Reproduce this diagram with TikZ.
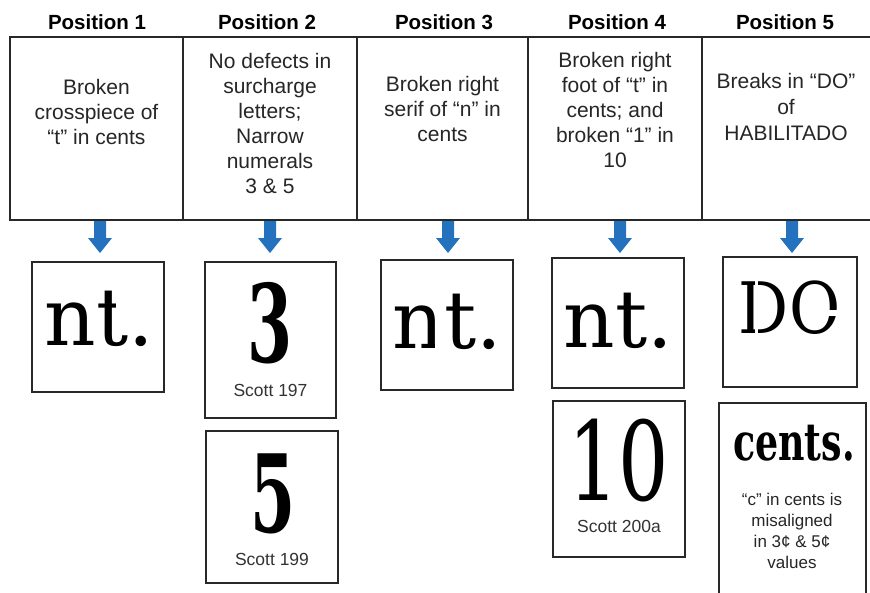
\documentclass[tikz,border=0pt]{standalone}
\usepackage{fontspec}
\usepackage{graphicx}
\setmainfont{Liberation Sans}
\newfontfamily\specfont{DejaVu Serif}
\definecolor{arrowblue}{RGB}{36,114,190}
\definecolor{linegray}{RGB}{40,40,40}
\tikzset{
  cellbox/.style={draw=linegray, line width=1.4pt, inner sep=0pt},
  imgbox/.style={draw=linegray, line width=1.3pt, inner sep=0pt, fill=white},
  header/.style={font=\bfseries\fontsize{20.5}{24}\selectfont, anchor=base, inner sep=0pt},
  celltext/.style={font=\fontsize{21}{25}\selectfont, align=center, anchor=north, inner sep=0pt, text=black!85},
  spec/.style={font=\specfont\fontsize{80}{80}\selectfont, anchor=base west, inner sep=0pt},
  specbold/.style={font=\specfont\bfseries\fontsize{36}{36}\selectfont, anchor=base, inner sep=0pt},
  scott/.style={font=\fontsize{17.5}{20}\selectfont, anchor=base, inner sep=0pt, text=black!80},
  smalltext/.style={font=\fontsize{17}{21}\selectfont, align=center, anchor=north, inner sep=0pt, text=black!85},
  gap/.style={fill=white},
  downarrow/.pic={\fill[arrowblue] (-6,0) -- (6,0) -- (6,17) -- (12,17) -- (0,32) -- (-12,17) -- (-6,17) -- cycle;}
}
\begin{document}
\begin{tikzpicture}[x=1pt,y=-1pt]
\useasboundingbox (0,0) rectangle (870,592);
\clip (0,0) rectangle (870,592);
\fill[white] (0,0) rectangle (870,592);
% headers
\node[header] (h1) at (97,29) {Position 1};
\node[header] (h2) at (267,29) {Position 2};
\node[header] (h3) at (444,29) {Position 3};
\node[header] (h4) at (617,29) {Position 4};
\node[header] (h5) at (785,29) {Position 5};
% table cells
\node[cellbox, minimum width=173pt, minimum height=183pt] (cell1) at (96.5,128.5) {};
\node[cellbox, minimum width=174pt, minimum height=183pt] (cell2) at (270,128.5) {};
\node[cellbox, minimum width=171pt, minimum height=183pt] (cell3) at (442.5,128.5) {};
\node[cellbox, minimum width=174pt, minimum height=183pt] (cell4) at (615,128.5) {};
\node[cellbox, minimum width=172pt, minimum height=183pt] (cell5) at (788,128.5) {};
% cell texts
\node[celltext] (t1) at (96.5,79) {Broken\\crosspiece of\\“t” in cents};
\node[celltext] (t2) at (270,53) {No defects in\\surcharge\\letters;\\Narrow\\numerals\\3 \& 5};
\node[celltext] (t3) at (442.5,76) {Broken right\\serif of “n” in\\cents};
\node[celltext] (t4) at (615,52) {Broken right\\foot of “t” in\\cents; and\\broken “1” in\\10};
\node[celltext, font=\fontsize{21}{26}\selectfont] (t5) at (786,73) {Breaks in “DO”\\of\\HABILITADO};
% arrows
\pic at (100,221) {downarrow};
\pic at (270,221) {downarrow};
\pic at (448,221) {downarrow};
\pic at (620,221) {downarrow};
\pic at (792,221) {downarrow};
% image boxes
\node[imgbox, minimum width=132pt, minimum height=130pt] (b1) at (98,327) {};
\node[imgbox, minimum width=131pt, minimum height=156pt] (b2a) at (270.5,340) {};
\node[imgbox, minimum width=132pt, minimum height=152pt] (b2b) at (272,507) {};
\node[imgbox, minimum width=132pt, minimum height=130pt] (b3) at (447,325) {};
\node[imgbox, minimum width=132pt, minimum height=130pt] (b4a) at (618,323) {};
\node[imgbox, minimum width=132pt, minimum height=156pt] (b4b) at (619,479) {};
\node[imgbox, minimum width=134pt, minimum height=130pt] (b5a) at (790,322) {};
\node[imgbox, minimum width=147pt, minimum height=200pt] (b5b) at (792.5,503) {};
% position 1: broken crosspiece of t
\node[spec] (g1n) at (44,345) {n};
\node[spec] (g1t) at (g1n.base east) {t.};
\fill[gap] ([xshift=20.5pt,yshift=36pt]g1t.base west) rectangle ([xshift=31pt,yshift=48pt]g1t.base west);
% position 2
\node[specbold] (g2a) at (270,362) {\scalebox{1.8}[3]{3}};
\node[scott] (s2a) at (270.5,396) {Scott 197};
\node[specbold] (g2b) at (273,532) {\scalebox{1.8}[3]{5}};
\node[scott] (s2b) at (272,565) {Scott 199};
% position 3: broken right serif of n
\node[spec] (g3n) at (392,348) {n};
\node[spec] (g3t) at (g3n.base east) {t.};
\fill[gap] ([xshift=-9pt,yshift=-1pt]g3n.base east) rectangle ([xshift=1pt,yshift=5.5pt]g3n.base east);
% position 4
\node[spec] (g4n) at (563,347) {n};
\node[spec] (g4t) at (g4n.base east) {t.};
\node[spec, anchor=base, font=\specfont\fontsize{36}{36}\selectfont] (g4b) at (619,500) {\scalebox{2.2}[3.05]{10}};
\node[scott] (s4b) at (619,532) {Scott 200a};
% position 5: breaks in DO
\node[spec, font=\specfont\fontsize{71}{71}\selectfont] (g5d) at (738.5,333) {\scalebox{0.88}[1]{D}};
\node[spec, font=\specfont\fontsize{71}{71}\selectfont] (g5o) at (g5d.base east) {\scalebox{0.88}[1]{O}};
\fill[gap] ([xshift=16pt,yshift=-2pt]g5d.base west) rectangle ([xshift=19pt,yshift=55pt]g5d.base west);
\fill[gap] ([xshift=34pt,yshift=17pt]g5o.base west) rectangle ([xshift=52pt,yshift=23pt]g5o.base west);
\node[spec, anchor=base, font=\specfont\bfseries\fontsize{52}{52}\selectfont] (g5b) at (794,460) {\scalebox{0.7}[1]{cents.}};
\node[smalltext] (n5b) at (792,493) {“c” in cents is\\misaligned\\in 3¢ \& 5¢\\values};
\end{tikzpicture}
\end{document}
